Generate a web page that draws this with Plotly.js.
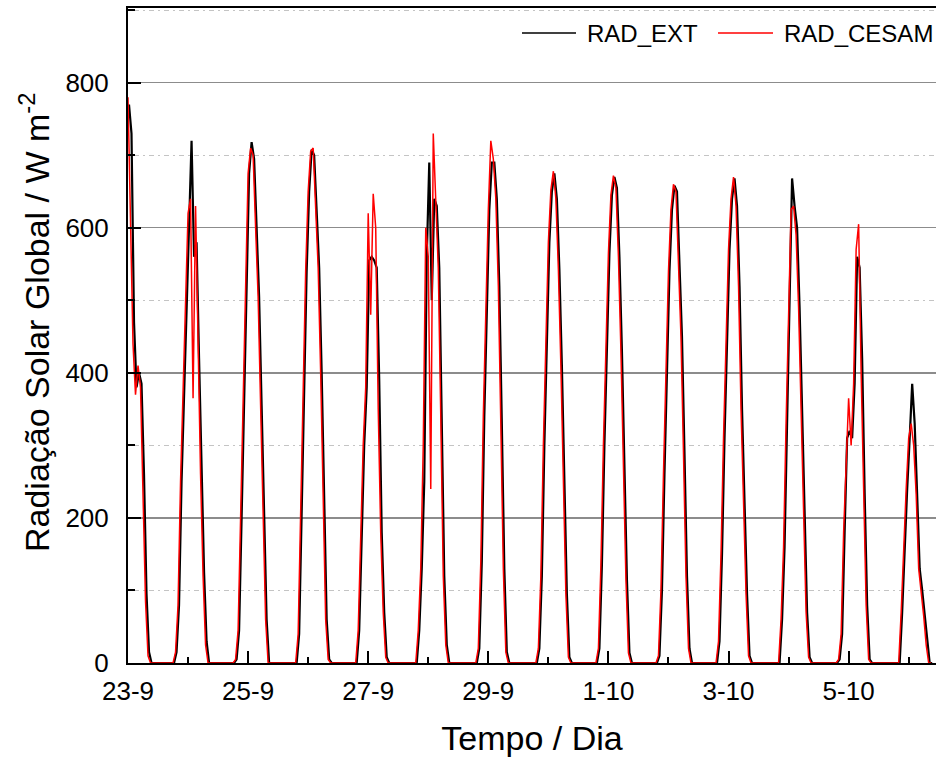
<!DOCTYPE html>
<html>
<head>
<meta charset="utf-8">
<script src="https://cdn.plot.ly/plotly-3.0.1.min.js"></script>
<style>
  html, body { margin: 0; padding: 0; background: #fff; }
  #chart { width: 936px; height: 757px; }
</style>
</head>
<body>
<div id="chart"></div>
<script>
// ---------------- DATA ----------------
// Hour of day of each reading (local time)
const HOURS = [5, 6, 7, 8, 9, 10, 11, 12, 13, 14, 15, 16, 17, 18, 19, 20, 21];
// Time shift of the external station timestamps (hours)
const EXT_TIME_OFFSET_H = 0.4;

const DAY_LABELS = ['23-9', '24-9', '25-9', '26-9', '27-9', '28-9', '29-9',
                    '30-9', '1-10', '2-10', '3-10', '4-10', '5-10', '6-10'];
const TICK_DAYS = [0, 2, 4, 6, 8, 10, 12];
const TICK_TEXT = ['23-9', '25-9', '27-9', '29-9', '1-10', '3-10', '5-10'];
const Y_TICKS = [0, 200, 400, 600, 800];
const SERIES_NAMES = ['RAD_EXT', 'RAD_CESAM'];

// RAD_EXT (W m-2), one array per day, values at HOURS
const ext_23_9 = [null, null, null, null, null, null, null, 770, 730, 470, 380, 400, 385, 260, 95, 15, 0];
const ext_24_9 = [0, 0, 15, 80, 250, 365, 510, 620, 720, 560, 580, 420, 260, 125, 30, 0, 0];
const ext_25_9 = [0, 0, 5, 45, 200, 345, 515, 675, 718, 695, 600, 505, 355, 195, 60, 0, 0];
const ext_26_9 = [0, 0, 0, 40, 200, 400, 540, 650, 708, 700, 630, 545, 400, 225, 60, 5, 0];
const ext_27_9 = [0, 0, 0, 45, 190, 300, 380, 555, 560, 555, 545, 390, 180, 70, 8, 0, 0];
const ext_28_9 = [0, 0, 0, 45, 130, 250, 560, 690, 500, 640, 630, 545, 340, 120, 25, 0, 0];
const ext_29_9 = [0, 0, 0, 20, 140, 340, 490, 625, 690, 690, 640, 520, 330, 130, 15, 0, 0];
const ext_30_9 = [0, 0, 0, 20, 120, 300, 456, 580, 650, 675, 640, 543, 410, 248, 95, 8, 0];
const ext_1_10 = [0, 0, 0, 20, 135, 300, 445, 565, 645, 670, 655, 560, 430, 275, 115, 14, 0];
const ext_2_10 = [0, 0, 0, 10, 100, 260, 405, 540, 625, 658, 650, 560, 450, 290, 120, 20, 0];
const ext_3_10 = [0, 0, 0, 30, 150, 310, 460, 570, 640, 668, 630, 520, 350, 215, 95, 10, 0];
const ext_4_10 = [0, 0, 0, 0, 60, 160, 330, 500, 668, 630, 600, 490, 365, 210, 70, 8, 0];
const ext_5_10 = [0, 0, 0, 5, 40, 180, 310, 320, 310, 385, 560, 545, 420, 235, 80, 5, 0];
const ext_6_10 = [0, 0, 0, 0, 70, 160, 240, 310, 385, 330, 232, 130, 100, 65, 25, 0, 0];

// RAD_CESAM (W m-2), one array per day, values at HOURS
const cesam_23_9 = [null, null, null, null, null, null, null, 780, 610, 440, 370, 410, 380, 250, 85, 10, 0];
const cesam_24_9 = [0, 0, 15, 80, 250, 365, 510, 620, 640, 365, 630, 440, 260, 120, 25, 0, 0];
const cesam_25_9 = [0, 0, 5, 45, 200, 345, 515, 675, 710, 700, 600, 505, 355, 195, 60, 0, 0];
const cesam_26_9 = [0, 0, 0, 40, 200, 400, 540, 650, 705, 710, 630, 545, 400, 225, 60, 5, 0];
const cesam_27_9 = [0, 0, 0, 45, 190, 300, 380, 620, 480, 647, 600, 350, 180, 70, 8, 0, 0];
const cesam_28_9 = [0, 0, 0, 45, 130, 300, 600, 560, 240, 730, 640, 545, 340, 120, 25, 0, 0];
const cesam_29_9 = [0, 0, 0, 20, 140, 340, 490, 625, 720, 695, 640, 520, 330, 130, 15, 0, 0];
const cesam_30_9 = [0, 0, 0, 20, 120, 300, 456, 580, 652, 678, 640, 543, 410, 248, 95, 8, 0];
const cesam_1_10 = [0, 0, 0, 20, 135, 300, 445, 565, 645, 672, 655, 560, 430, 275, 115, 14, 0];
const cesam_2_10 = [0, 0, 0, 10, 100, 260, 405, 540, 625, 660, 650, 560, 450, 290, 120, 20, 0];
const cesam_3_10 = [0, 0, 0, 30, 150, 310, 460, 570, 640, 670, 630, 520, 350, 215, 95, 10, 0];
const cesam_4_10 = [0, 0, 0, 0, 60, 160, 330, 500, 625, 630, 590, 490, 365, 210, 70, 8, 0];
const cesam_5_10 = [0, 0, 0, 5, 40, 180, 265, 365, 300, 385, 570, 605, 400, 235, 80, 5, 0];
const cesam_6_10 = [0, 0, 0, 0, 70, 160, 240, 310, 330, 300, 232, 130, 100, 65, 25, 0, 0];

const EXT_DAYS = [ext_23_9, ext_24_9, ext_25_9, ext_26_9, ext_27_9, ext_28_9, ext_29_9,
                  ext_30_9, ext_1_10, ext_2_10, ext_3_10, ext_4_10, ext_5_10, ext_6_10];
const CESAM_DAYS = [cesam_23_9, cesam_24_9, cesam_25_9, cesam_26_9, cesam_27_9, cesam_28_9, cesam_29_9,
                    cesam_30_9, cesam_1_10, cesam_2_10, cesam_3_10, cesam_4_10, cesam_5_10, cesam_6_10];

// ---------------- BUILD SERIES ----------------
function buildSeries(days, offsetH) {
  const xs = [], ys = [];
  days.forEach((vals, d) => {
    vals.forEach((v, i) => {
      if (v === null) return;
      xs.push(d + (HOURS[i] - 12 + offsetH) / 24);
      ys.push(v);
    });
  });
  return { xs, ys };
}
const ext = buildSeries(EXT_DAYS, EXT_TIME_OFFSET_H);
const cesam = buildSeries(CESAM_DAYS, 0);

const FONT = 'Liberation Sans, Arial, Helvetica, sans-serif';
const COLORS = ['#000000', '#ff0000'];

const traces = [
  { x: ext.xs, y: ext.ys, type: 'scatter', mode: 'lines', name: SERIES_NAMES[0],
    line: { color: COLORS[0], width: 2.2 } },
  { x: cesam.xs, y: cesam.ys, type: 'scatter', mode: 'lines', name: SERIES_NAMES[1],
    line: { color: COLORS[1], width: 1.5 } }
];

// Legend drawn as line samples + labels (long sample lines as in the original)
const legendLines = [
  { x0: 0.4876, x1: 0.5545, color: COLORS[0], width: 1.6 },
  { x0: 0.7302, x1: 0.7983, color: COLORS[1], width: 1.6 }
];
const legendTextX = [0.5656, 0.8094];
const legendY = 0.9618;

const layout = {
  width: 936, height: 757,
  margin: { l: 128, r: 0, t: 8, b: 94 },
  paper_bgcolor: '#ffffff', plot_bgcolor: '#ffffff',
  font: { family: FONT, color: '#000' },
  showlegend: false,
  xaxis: {
    range: [0, 13.455], autorange: false,
    tickmode: 'array', tickvals: TICK_DAYS, ticktext: TICK_TEXT,
    ticks: 'inside', ticklen: 12, tickwidth: 2, tickcolor: '#000',
    tickfont: { family: FONT, size: 26, color: '#000' },
    ticklabelstandoff: 4,
    minor: { tickmode: 'linear', tick0: 0, dtick: 1, ticks: 'inside', ticklen: 6, tickwidth: 2, tickcolor: '#000', showgrid: false },
    showline: true, linecolor: '#000', linewidth: 2, mirror: true,
    showgrid: false, zeroline: false,
    layer: 'below traces',
    title: { text: 'Tempo / Dia', font: { family: FONT, size: 34, color: '#000' }, standoff: 21 }
  },
  yaxis: {
    range: [0, 903], autorange: false,
    tickmode: 'array', tickvals: Y_TICKS,
    ticks: 'inside', ticklen: 13, tickwidth: 2, tickcolor: '#000',
    tickfont: { family: FONT, size: 26, color: '#000' },
    ticklabelstandoff: 12,
    minor: { tickmode: 'linear', tick0: 0, dtick: 100, ticks: 'inside', ticklen: 7, tickwidth: 2, tickcolor: '#000',
             showgrid: true, gridcolor: '#c4c4c4', gridwidth: 1, griddash: '2px,4px,5px,4px' },
    showline: true, linecolor: '#000', linewidth: 2,
    showgrid: true, gridcolor: '#8c8c8c', gridwidth: 1.3,
    zeroline: false
  },
  shapes: legendLines.map(l => ({
    type: 'line', xref: 'paper', yref: 'paper',
    x0: l.x0, x1: l.x1, y0: legendY, y1: legendY,
    line: { color: l.color, width: l.width }
  })),
  annotations: [
    {
      text: 'Radiação Solar Global / W m<sup>-2</sup>',
      xref: 'paper', yref: 'paper',
      x: -0.1163, y: 0.5206, xanchor: 'center', yanchor: 'middle',
      textangle: -90, showarrow: false,
      font: { family: FONT, size: 34, color: '#000' }
    }
  ].concat(SERIES_NAMES.map((name, i) => ({
    text: name, xref: 'paper', yref: 'paper',
    x: legendTextX[i], y: legendY, xanchor: 'left', yanchor: 'middle',
    showarrow: false, font: { family: FONT, size: 24, color: '#000' }
  })))
};

Plotly.newPlot('chart', traces, layout, { displayModeBar: false, staticPlot: true });
</script>
</body>
</html>
